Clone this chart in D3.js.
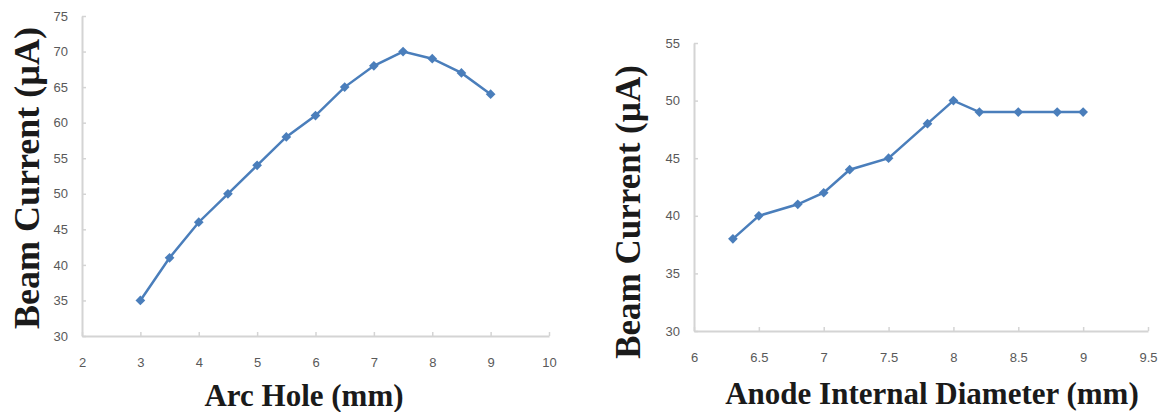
<!DOCTYPE html>
<html>
<head>
<meta charset="utf-8">
<script src="https://cdn.jsdelivr.net/npm/d3@7"></script>
<style>
  html, body { margin: 0; padding: 0; background: #fff; }
  svg { display: block; }
  .tick text { font-family: "Liberation Sans", Arial, sans-serif; font-size: 13px; fill: #595959; }
  .ttl { font-family: "Liberation Serif", "Times New Roman", serif; font-weight: bold; fill: #1a1a1a; }
</style>
</head>
<body>
<svg id="chart" width="1167" height="412"></svg>
<script>
// left panel: arc hole
var arcHole = [3, 3.5, 4, 4.5, 5, 5.5, 6, 6.5, 7, 7.5, 8, 8.5, 9];
var arcCurrent = [35, 41, 46, 50, 54, 58, 61, 65, 68, 70, 69, 67, 64];
var arcXTicks = [2, 3, 4, 5, 6, 7, 8, 9, 10];
var arcYTicks = [30, 35, 40, 45, 50, 55, 60, 65, 70, 75];

// right panel: anode internal diameter
var anodeDia = [6.3, 6.5, 6.8, 7, 7.2, 7.5, 7.8, 8, 8.2, 8.5, 8.8, 9];
var anodeCurrent = [38, 40, 41, 42, 44, 45, 48, 50, 49, 49, 49, 49];
var anodeXTicks = [6, 6.5, 7, 7.5, 8, 8.5, 9, 9.5];
var anodeYTicks = [30, 35, 40, 45, 50, 55];

var svg = d3.select('#chart');
var lineColor = '#4a7ebb';

function panel(opt) {
  var x = d3.scaleLinear().domain(opt.xDomain).range([opt.left, opt.right]);
  var y = d3.scaleLinear().domain(opt.yDomain).range([opt.bottom, opt.top]);
  var g = svg.append('g');

  var xa = g.append('g')
    .attr('transform', 'translate(0,' + opt.bottom + ')')
    .call(d3.axisBottom(x).tickValues(opt.xTicks).tickSize(-4).tickPadding(22)
      .tickFormat(d3.format('')).tickSizeOuter(0));
  var ya = g.append('g')
    .attr('transform', 'translate(' + opt.left + ',0)')
    .call(d3.axisLeft(y).tickValues(opt.yTicks).tickSize(-4).tickPadding(14)
      .tickFormat(d3.format('')).tickSizeOuter(0));
  [xa, ya].forEach(function (a) {
    a.select('.domain').attr('stroke', '#d4d4d4').attr('stroke-width', 2);
    a.selectAll('.tick line').attr('stroke', '#d4d4d4').attr('stroke-width', 1.5);
  });

  var line = d3.line().x(function (d) { return x(d[0]); }).y(function (d) { return y(d[1]); });
  var pts = opt.xs.map(function (v, i) { return [v, opt.ys[i]]; });
  g.append('path').datum(pts).attr('d', line)
    .attr('fill', 'none').attr('stroke', lineColor).attr('stroke-width', 2.5);
  g.selectAll('.pt').data(pts).enter().append('path')
    .attr('class', 'pt')
    .attr('transform', function (d) { return 'translate(' + x(d[0]) + ',' + y(d[1]) + ')'; })
    .attr('d', d3.symbol().type(d3.symbolDiamond2).size(60))
    .attr('fill', lineColor);

  g.append('text').attr('class', 'ttl')
    .attr('x', opt.xTitleX).attr('y', opt.xTitleY)
    .attr('text-anchor', 'middle').style('font-size', opt.xTitleSize + 'px')
    .text(opt.xTitle);
  g.append('text').attr('class', 'ttl')
    .attr('transform', 'translate(' + opt.yTitleX + ',' + opt.yTitleY + ') rotate(-90)')
    .attr('text-anchor', 'middle').style('font-size', opt.yTitleSize + 'px')
    .text('Beam Current (\u00b5A)');
}

panel({
  xs: arcHole, ys: arcCurrent, xTicks: arcXTicks, yTicks: arcYTicks,
  xDomain: [2, 10], yDomain: [30, 75],
  left: 82, right: 549, top: 16, bottom: 336,
  xTitle: 'Arc Hole (mm)', xTitleX: 304, xTitleY: 406, xTitleSize: 31,
  yTitleX: 39, yTitleY: 178, yTitleSize: 36
});

panel({
  xs: anodeDia, ys: anodeCurrent, xTicks: anodeXTicks, yTicks: anodeYTicks,
  xDomain: [6, 9.5], yDomain: [30, 55],
  left: 694, right: 1148, top: 43, bottom: 331,
  xTitle: 'Anode Internal Diameter (mm)', xTitleX: 932, xTitleY: 404, xTitleSize: 31,
  yTitleX: 640, yTitleY: 212, yTitleSize: 35
});
</script>
</body>
</html>
